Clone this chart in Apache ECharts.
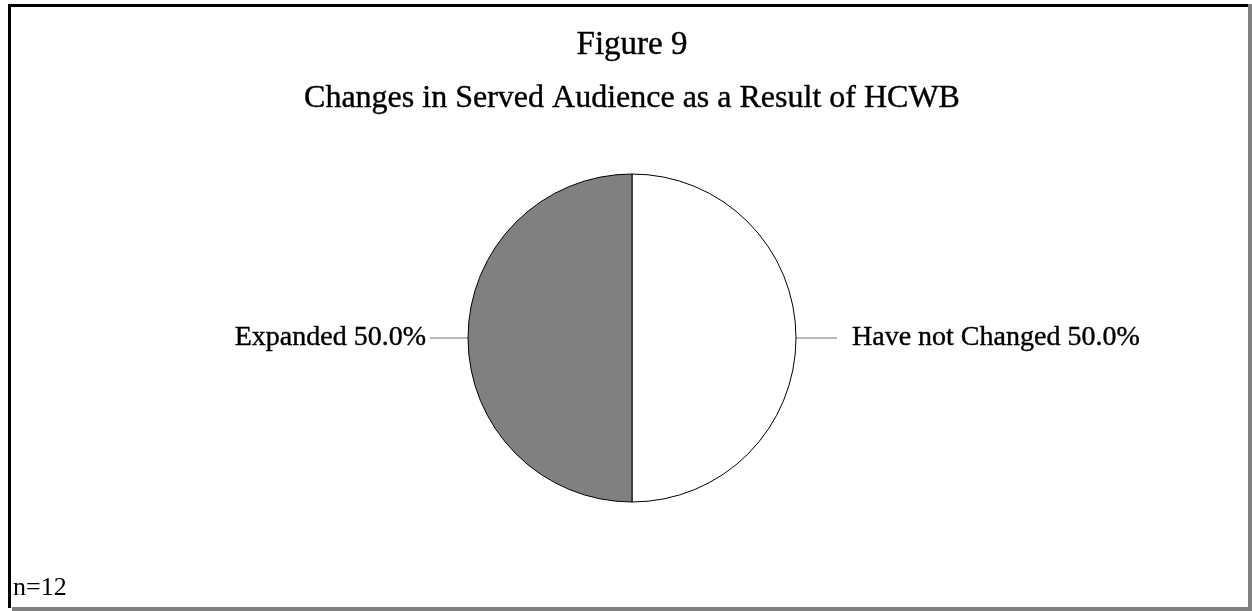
<!DOCTYPE html>
<html>
<head>
<meta charset="utf-8">
<script src="https://cdn.jsdelivr.net/npm/echarts@6/dist/echarts.min.js"></script>
<style>
html,body{margin:0;padding:0;background:#fff;}
#chart{width:1252px;height:611px;}
</style>
</head>
<body>
<div id="chart"></div>
<script>
const titleText = 'Figure 9';
const subtitleText = 'Changes in Served Audience as a Result of HCWB';
const noteText = 'n=12';
const categories = ['Have not Changed', 'Expanded'];
const values = [50.0, 50.0];
const sliceColors = ['#ffffff', '#808080'];

const FONT = '"Liberation Serif", "Times New Roman", serif';
const chart = echarts.init(document.getElementById('chart'), null, {renderer: 'canvas'});

const labelCfg = [
  {len: 22, len2: 19, dist: 15},
  {len: 20, len2: 18, dist: 4}
];

const pieData = categories.map((c, i) => ({
  name: c,
  value: values[i],
  itemStyle: {color: sliceColors[i]},
  label: {distanceToLabelLine: labelCfg[i].dist},
  labelLine: {length: labelCfg[i].len, length2: labelCfg[i].len2}
}));

const bold = {textBorderColor: '#000', textBorderWidth: 0.4};

chart.setOption({
  backgroundColor: '#ffffff',
  animation: false,
  graphic: [
    {type: 'rect', shape: {x: 8, y: 4, width: 1240, height: 3}, style: {fill: '#000'}},
    {type: 'rect', shape: {x: 8, y: 4, width: 3, height: 604}, style: {fill: '#000'}},
    {type: 'rect', shape: {x: 1248, y: 4, width: 4, height: 607}, style: {fill: '#808080'}},
    {type: 'rect', shape: {x: 12, y: 607, width: 1240, height: 4}, style: {fill: '#808080'}},
    {type: 'text', x: 632, y: 45, style: Object.assign({text: titleText, font: '33px ' + FONT, fill: '#000', textAlign: 'center', textVerticalAlign: 'middle', stroke: '#000', lineWidth: 0.4})},
    {type: 'text', x: 632, y: 99, style: Object.assign({text: subtitleText, font: '32px ' + FONT, fill: '#000', textAlign: 'center', textVerticalAlign: 'middle', stroke: '#000', lineWidth: 0.4})},
    {type: 'text', x: 13, y: 588, style: {text: noteText, font: '26px ' + FONT, fill: '#000', textAlign: 'left', textVerticalAlign: 'middle'}}
  ],
  series: [{
    type: 'pie',
    center: [632, 338],
    radius: 164,
    startAngle: 90,
    clockwise: true,
    avoidLabelOverlap: false,
    silent: true,
    itemStyle: {borderColor: '#000', borderWidth: 1},
    label: Object.assign({
      show: true,
      position: 'outside',
      formatter: p => p.name + ' ' + p.value.toFixed(1) + '%',
      fontFamily: FONT,
      fontSize: 28,
      color: '#000'
    }, bold),
    labelLine: {show: true, lineStyle: {color: '#707070', width: 1}},
    emphasis: {disabled: true},
    data: pieData
  }]
});
</script>
</body>
</html>
